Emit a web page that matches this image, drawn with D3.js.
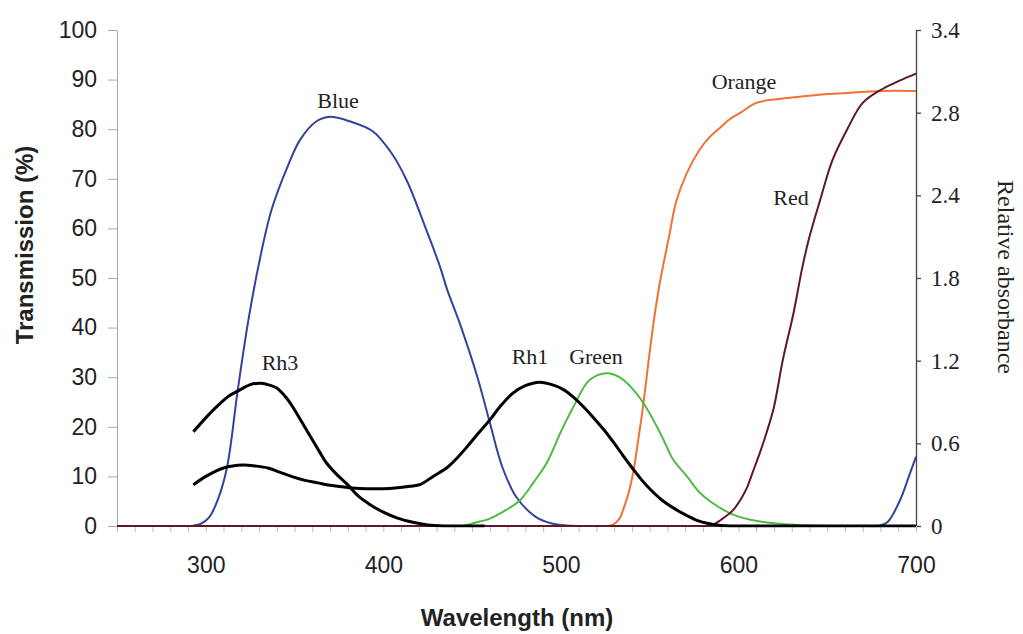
<!DOCTYPE html>
<html>
<head>
<meta charset="utf-8">
<script src="https://cdn.jsdelivr.net/npm/d3@7"></script>
<style>
  body { margin: 0; background: #fff; }
  svg { display: block; }
  .sans { font-family: "Liberation Sans", Arial, sans-serif; }
  .serif { font-family: "Liberation Serif", "Times New Roman", serif; }
</style>
</head>
<body>
<div id="chart"></div>
<script>
// wavelength (nm), transmission (%)
const blue = [[292,0],[297,0.4],[302,1.8],[307,5.5],[312,11.9],[318,27.4],[324,41.5],[330,53],[337,63.7],[346,72.4],[353,77.8],[362,81.5],[370,82.5],[381,81.6],[394,79.6],[404,75.5],[413,69.8],[424,59.9],[432,52.2],[436,47.6],[443,40.9],[453,30],[460,20.8],[467,11.9],[475,5.8],[486,1.8],[495,0.5],[503,0.1],[510,0],[515,0],[672,0],[679,0],[684,0.8],[691,5.2],[696,10],[700,14]];
const green = [[445,0],[451,0.6],[460,1.5],[468,3],[477,5.2],[485,9],[492,12.7],[500,19],[507,24],[516,29.4],[526,30.8],[533,30],[540,27.8],[547,24.5],[557,18],[563,13.5],[571,10],[578,6.8],[584,5],[595,2.6],[605,1.4],[614,0.8],[625,0.4],[640,0.1],[650,0],[700,0]];
const orange = [[250,0],[518,0],[525,0],[529,0.2],[533,1.5],[535,3.2],[538,6.5],[541,11.3],[543,16],[546,23.4],[550,35],[553,43],[556,49.6],[559,55],[561,58.5],[565,65.5],[571,71.2],[578,75.8],[584,78.5],[590,80.4],[595,82],[601,83.3],[610,85.3],[620,86],[633,86.5],[647,87],[661,87.3],[680,87.7],[700,87.7]];
const red = [[250,0],[574,0],[581,0],[586,0.3],[590,1.2],[597,3.2],[601,5.2],[605,7.9],[608,10.8],[612,14.7],[616,19],[620,24],[625,33.5],[631,42.9],[636,52.2],[640,58.3],[646,65.7],[653,73.8],[661,79.8],[670,85.3],[680,87.9],[689,89.5],[698,90.9],[700,91.2]];
// rhodopsin absorbance curves, drawn on the same vertical scale
const rh3 = [[293,19],[300,21.8],[306,24],[313,26.2],[319,27.4],[325,28.5],[331,28.8],[336,28.4],[340,27.8],[345,26],[349,24],[354,21],[359,18],[364,15],[368,12.7],[374,10.3],[380,8.3],[386,6],[393,4.2],[400,2.8],[408,1.6],[416,0.8],[425,0.2],[435,0],[445,0],[457,0]];
const rh1 = [[293,8.3],[300,10],[310,11.7],[321,12.3],[328,12.1],[335,11.7],[342,10.8],[349,9.9],[356,9.2],[363,8.7],[370,8.2],[377,7.9],[385,7.6],[393,7.5],[400,7.5],[408,7.7],[415,8],[421,8.4],[428,10],[436,11.8],[441,13.5],[447,15.9],[453,18.5],[460,21.4],[466,24.2],[473,26.8],[480,28.3],[488,29],[494,28.6],[501,27.6],[507,26],[512,24.3],[518,22],[524,19.5],[530,16.7],[535,14.2],[540,11.8],[545,9.5],[550,7.5],[557,5.2],[564,3.5],[571,2.1],[577,1.1],[583,0.5],[590,0.1],[597,0],[604,0],[700,0]];

const leftTicks = [0,10,20,30,40,50,60,70,80,90,100];
const rightTickLabels = ["0","0.6","1.2","1.8","2.4","2.8","3.4"];
const xLabelTicks = [300,400,500,600,700];

const series = [
  { name: "Orange", data: orange, color: "#ee7335", width: 2, label: [744, 89] },
  { name: "Blue", data: blue, color: "#34439a", width: 2, label: [338, 108] },
  { name: "Green", data: green, color: "#52b946", width: 2, label: [596, 364] },
  { name: "Red", data: red, color: "#5e1828", width: 2, label: [791, 205] },
  { name: "Rh3", data: rh3, color: "#000", width: 3, label: [280, 370] },
  { name: "Rh1", data: rh1, color: "#000", width: 3, label: [530, 364] }
];

const W = 1023, H = 634;
const margin = { top: 30, right: 107, bottom: 108, left: 117 };
const width = W - margin.left - margin.right;
const height = H - margin.top - margin.bottom;

const svg = d3.select("#chart").append("svg")
  .attr("width", W)
  .attr("height", H);

const g = svg.append("g")
  .attr("transform", `translate(${margin.left},${margin.top})`);

// keep smoothed curves from dipping under the baseline
g.append("clipPath")
  .attr("id", "plot-clip")
  .append("rect")
  .attr("x", -2)
  .attr("y", -5)
  .attr("width", width + 4)
  .attr("height", height + 6.5);

const x = d3.scaleLinear().domain([250, 700]).range([0, width]);
const y = d3.scaleLinear().domain([0, 100]).range([height, 0]);
// the right axis labels are evenly spaced although their values are not
const yR = d3.scaleLinear().domain([0, rightTickLabels.length - 1]).range([height, 0]);

// left axis
const yAxis = g.append("g")
  .attr("class", "sans")
  .call(d3.axisLeft(y).tickValues(leftTicks).tickSize(9).tickSizeOuter(0).tickPadding(11));
yAxis.select(".domain").attr("stroke", "#aaa");
yAxis.selectAll(".tick line").attr("stroke", "#aaa");
yAxis.selectAll("text").attr("font-size", 23).attr("fill", "#222");

// right axis
const rAxis = g.append("g")
  .attr("class", "serif")
  .attr("transform", `translate(${width},0)`)
  .call(d3.axisRight(yR).tickValues(d3.range(rightTickLabels.length))
    .tickFormat(i => rightTickLabels[i]).tickSize(5).tickSizeOuter(0).tickPadding(10));
rAxis.select(".domain").attr("stroke", "#444").attr("stroke-width", 1.3);
rAxis.selectAll(".tick line").attr("stroke", "#444").attr("stroke-width", 1.3);
rAxis.selectAll("text").attr("font-size", 23).attr("fill", "#222");

// bottom axis, minor tick every 10 nm
const xAxis = g.append("g")
  .attr("class", "sans")
  .attr("transform", `translate(0,${height})`)
  .call(d3.axisBottom(x).tickValues(d3.range(250, 701, 10))
    .tickFormat(d => xLabelTicks.includes(d) ? d : "")
    .tickSize(6).tickSizeOuter(0).tickPadding(25));
xAxis.select(".domain").attr("stroke", "#bbb");
xAxis.selectAll(".tick line").attr("stroke", "#bbb");
xAxis.selectAll("text").attr("font-size", 23).attr("fill", "#222");

// curves
const line = d3.line()
  .x(d => x(d[0]))
  .y(d => y(d[1]))
  .curve(d3.curveCatmullRom.alpha(0.5));

g.append("g")
  .attr("clip-path", "url(#plot-clip)")
  .selectAll(".curve")
  .data(series)
  .enter()
  .append("path")
  .attr("class", "curve")
  .attr("fill", "none")
  .attr("stroke", d => d.color)
  .attr("stroke-width", d => d.width)
  .attr("stroke-linejoin", "round")
  .attr("d", d => line(d.data));

// curve names
svg.selectAll(".name")
  .data(series)
  .enter()
  .append("text")
  .attr("class", "name serif")
  .attr("x", d => d.label[0])
  .attr("y", d => d.label[1])
  .attr("text-anchor", "middle")
  .attr("font-size", 22)
  .attr("fill", "#222")
  .text(d => d.name);

// axis titles
svg.append("text")
  .attr("class", "sans")
  .attr("transform", "translate(33,245) rotate(-90)")
  .attr("text-anchor", "middle")
  .attr("font-size", 24)
  .attr("font-weight", "bold")
  .attr("fill", "#222")
  .text("Transmission (%)");

svg.append("text")
  .attr("class", "sans")
  .attr("x", 517)
  .attr("y", 626)
  .attr("text-anchor", "middle")
  .attr("font-size", 24)
  .attr("font-weight", "bold")
  .attr("fill", "#222")
  .text("Wavelength (nm)");

svg.append("text")
  .attr("class", "serif")
  .attr("transform", "translate(998,277) rotate(90)")
  .attr("text-anchor", "middle")
  .attr("font-size", 24)
  .attr("fill", "#222")
  .text("Relative absorbance");
</script>
</body>
</html>
